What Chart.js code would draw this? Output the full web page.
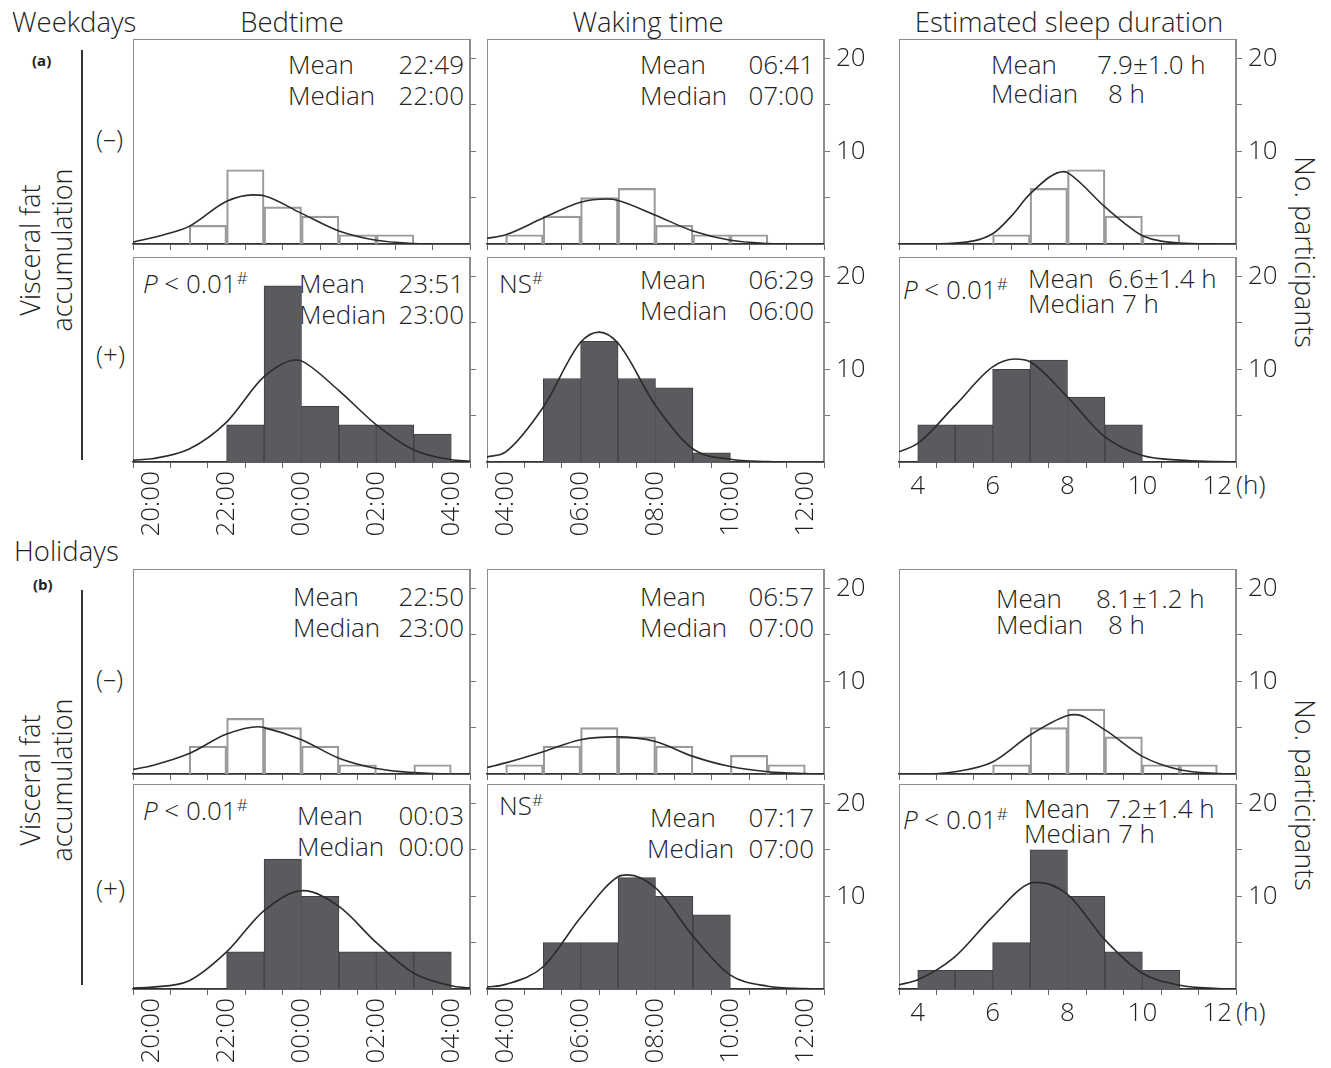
<!DOCTYPE html>
<html>
<head>
<meta charset="utf-8">
<script src="https://cdn.jsdelivr.net/npm/chart.js@4.4.0/dist/chart.umd.min.js"></script>
<style>
  body { margin: 0; background: #fff; width: 1331px; height: 1068px; position: relative; overflow: hidden;
         font-family: 'Open Sans', sans-serif; font-weight: 300; color: #222; }
  .t { position: absolute; white-space: nowrap; font-size: 26px; line-height: 30px; transform: translateY(-50%); }
  .h { font-size: 27.5px; }
  .r { transform: translate(-100%, -50%); }
  .c { transform: translate(-50%, -50%); }
  .tag { position: absolute; font-size: 15px; font-weight: 700; transform: translateY(-50%); }
  .vl { position: absolute; width: 1.5px; background: #333; }
  .rot { position: absolute; white-space: nowrap; font-size: 27px; line-height: 32px; text-align: center;
         transform: translate(-50%, -50%) rotate(-90deg); }
  .rot90 { transform: translate(-50%, -50%) rotate(90deg); }
  sup { font-size: 17px; line-height: 0; vertical-align: 9px; }
  canvas { position: absolute; }
</style>
</head>
<body>

<!-- headers -->
<div class="t h" style="left:12px;top:22px">Weekdays</div>
<div class="t c h" style="left:292px;top:22px">Bedtime</div>
<div class="t c h" style="left:648px;top:22px">Waking time</div>
<div class="t c h" style="left:1069px;top:22px">Estimated sleep duration</div>
<div class="t h" style="left:14px;top:551px">Holidays</div>

<!-- (a) side labels -->
<div class="tag" style="left:32px;top:60px">(a)</div>
<div class="vl" style="left:81px;top:50px;height:410px"></div>
<div class="rot" style="left:46px;top:250px">Visceral fat<br>accumulation</div>
<div class="t" style="left:96px;top:138px">(–)</div>
<div class="t" style="left:96px;top:354px">(+)</div>
<div class="rot rot90" style="left:1305px;top:252px">No. participants</div>

<!-- (b) side labels -->
<div class="tag" style="left:33px;top:584px">(b)</div>
<div class="vl" style="left:81px;top:590px;height:395px"></div>
<div class="rot" style="left:46px;top:780px">Visceral fat<br>accumulation</div>
<div class="t" style="left:96px;top:678px">(–)</div>
<div class="t" style="left:96px;top:888px">(+)</div>
<div class="rot rot90" style="left:1305px;top:795px">No. participants</div>

<!-- unit labels on sleep axis -->
<div class="t" style="left:1236px;top:484px">(h)</div>
<div class="t" style="left:1236px;top:1011px">(h)</div>

<!-- weekdays (-) -->
<div class="t" style="left:288px;top:64px">Mean</div><div class="t r" style="left:464px;top:64px">22:49</div>
<div class="t" style="left:288px;top:95px">Median</div><div class="t r" style="left:464px;top:95px">22:00</div>
<div class="t" style="left:640px;top:64px">Mean</div><div class="t r" style="left:814px;top:64px">06:41</div>
<div class="t" style="left:640px;top:95px">Median</div><div class="t r" style="left:814px;top:95px">07:00</div>
<div class="t" style="left:991px;top:64px">Mean</div><div class="t" style="left:1097px;top:64px">7.9±1.0 h</div>
<div class="t" style="left:991px;top:93px">Median</div><div class="t" style="left:1108px;top:93px">8 h</div>

<!-- weekdays (+) -->
<div class="t" style="left:143px;top:283px"><i>P</i> &lt; 0.01<sup>#</sup></div>
<div class="t" style="left:299px;top:283px">Mean</div><div class="t r" style="left:464px;top:283px">23:51</div>
<div class="t" style="left:299px;top:314px">Median</div><div class="t r" style="left:464px;top:314px">23:00</div>
<div class="t" style="left:499px;top:283px">NS<sup>#</sup></div>
<div class="t" style="left:640px;top:279px">Mean</div><div class="t r" style="left:814px;top:279px">06:29</div>
<div class="t" style="left:640px;top:310px">Median</div><div class="t r" style="left:814px;top:310px">06:00</div>
<div class="t" style="left:903px;top:289px"><i>P</i> &lt; 0.01<sup>#</sup></div>
<div class="t" style="left:1028px;top:278px">Mean</div><div class="t" style="left:1108px;top:278px">6.6±1.4 h</div>
<div class="t" style="left:1028px;top:303px">Median 7 h</div>

<!-- holidays (-) -->
<div class="t" style="left:293px;top:596px">Mean</div><div class="t r" style="left:464px;top:596px">22:50</div>
<div class="t" style="left:293px;top:627px">Median</div><div class="t r" style="left:464px;top:627px">23:00</div>
<div class="t" style="left:640px;top:596px">Mean</div><div class="t r" style="left:814px;top:596px">06:57</div>
<div class="t" style="left:640px;top:627px">Median</div><div class="t r" style="left:814px;top:627px">07:00</div>
<div class="t" style="left:996px;top:598px">Mean</div><div class="t" style="left:1096px;top:598px">8.1±1.2 h</div>
<div class="t" style="left:996px;top:624px">Median</div><div class="t" style="left:1108px;top:624px">8 h</div>

<!-- holidays (+) -->
<div class="t" style="left:143px;top:810px"><i>P</i> &lt; 0.01<sup>#</sup></div>
<div class="t" style="left:297px;top:815px">Mean</div><div class="t r" style="left:464px;top:815px">00:03</div>
<div class="t" style="left:297px;top:846px">Median</div><div class="t r" style="left:464px;top:846px">00:00</div>
<div class="t" style="left:499px;top:805px">NS<sup>#</sup></div>
<div class="t" style="left:650px;top:817px">Mean</div><div class="t r" style="left:814px;top:817px">07:17</div>
<div class="t" style="left:647px;top:848px">Median</div><div class="t r" style="left:814px;top:848px">07:00</div>
<div class="t" style="left:903px;top:819px"><i>P</i> &lt; 0.01<sup>#</sup></div>
<div class="t" style="left:1024px;top:808px">Mean</div><div class="t" style="left:1106px;top:808px">7.2±1.4 h</div>
<div class="t" style="left:1024px;top:833px">Median 7 h</div>

<script>
// bin start hours (24 = 00:00 next day)
const bedBins = [20, 21, 22, 23, 24, 25, 26, 27];
const wakeBins = [4, 5, 6, 7, 8, 9, 10, 11];
const sleepBins = [4, 5, 6, 7, 8, 9, 10, 11];

// axis ticks
const bedTicks = [20, 21, 22, 23, 24, 25, 26, 27, 28];
const wakeTicks = [4, 5, 6, 7, 8, 9, 10, 11, 12];
const sleepTicks = [4, 5, 6, 7, 8, 9, 10, 11, 12];
const xLabelled = [4, 6, 8, 10, 12, 20, 22, 24, 26, 28];
const yTicks = [5, 10, 15, 20];
const yLabelled = [10, 20];

// counts per bin
const wdBedNeg = [0, 2, 8, 4, 3, 1, 1, 0];
const wdBedPos = [0, 0, 4, 19, 6, 4, 4, 3];
const wdWakeNeg = [1, 3, 5, 6, 2, 1, 1, 0];
const wdWakePos = [0, 9, 13, 9, 8, 1, 0, 0];
const wdSleepNeg = [0, 0, 1, 6, 8, 3, 1, 0];
const wdSleepPos = [4, 4, 10, 11, 7, 4, 0, 0];
const hdBedNeg = [0, 3, 6, 5, 3, 1, 0, 1];
const hdBedPos = [0, 0, 4, 14, 10, 4, 4, 4];
const hdWakeNeg = [1, 3, 5, 4, 3, 0, 2, 1];
const hdWakePos = [0, 5, 5, 12, 10, 8, 0, 0];
const hdSleepNeg = [0, 0, 1, 5, 7, 4, 1, 1];
const hdSleepPos = [2, 2, 5, 15, 10, 4, 2, 0];

// fitted curves
const wdBedNegCx = [19.5, 20.33, 21, 22, 22.7, 23, 24, 25, 26, 27, 27.5];
const wdBedNegCy = [0.2, 1.0, 1.9, 4.6, 5.3, 5.2, 3.3, 1.4, 0.4, 0.05, 0];
const wdBedPosCx = [19.5, 20, 21, 22, 23, 23.85, 24, 25, 26, 27, 28, 28.5];
const wdBedPosCy = [0.2, 0.35, 1.4, 4.3, 9.2, 11.0, 10.9, 7.7, 4.0, 1.3, 0.25, 0.1];
const wdWakeNegCx = [3.5, 4, 5, 6, 6.7, 7, 8, 9, 10, 11, 11.5];
const wdWakeNegCy = [0.6, 1.0, 2.8, 4.5, 4.85, 4.7, 3.1, 1.4, 0.4, 0.05, 0];
const wdWakePosCx = [3.5, 4, 5, 6, 6.5, 7, 8, 9, 10, 11, 11.5];
const wdWakePosCy = [0.55, 1.1, 5.9, 12.9, 14.0, 12.8, 6.1, 1.4, 0.3, 0.05, 0];
const wdSleepNegCx = [3.5, 4, 5, 6, 6.5, 7, 7.9, 8, 9, 9.5, 10, 11, 12];
const wdSleepNegCy = [0, 0, 0.1, 1.1, 3.0, 5.4, 7.8, 7.7, 4.0, 2.3, 0.9, 0.1, 0];
const wdSleepPosCx = [3.5, 4, 5, 6, 6.6, 7, 8, 9, 10, 11, 12, 12.5];
const wdSleepPosCy = [1.1, 2.0, 6.1, 10.25, 11.1, 10.8, 7.0, 2.7, 0.7, 0.2, 0.05, 0];
const hdBedNegCx = [19.5, 20, 21, 22, 22.85, 23, 24, 25, 26, 27, 28, 28.5];
const hdBedNegCy = [0.5, 0.9, 2.2, 4.3, 5.1, 5.0, 3.7, 1.7, 0.6, 0.15, 0, 0];
const hdBedPosCx = [19.5, 20, 21, 22, 23, 24.05, 25, 26, 27, 28, 28.5];
const hdBedPosCy = [0.1, 0.2, 0.9, 4.0, 8.45, 10.6, 8.9, 5.0, 1.7, 0.35, 0.1];
const hdWakeNegCx = [3.5, 4, 5, 6, 6.95, 8, 9, 10, 11, 12, 12.5];
const hdWakeNegCy = [0.7, 1.2, 2.4, 3.7, 4.0, 3.5, 1.9, 0.8, 0.25, 0.05, 0];
const hdWakePosCx = [3.5, 4, 5, 6, 7, 7.25, 8, 9, 10, 11, 12, 12.5];
const hdWakePosCy = [0.2, 0.5, 2.4, 7.7, 12.1, 12.3, 10.9, 5.7, 1.5, 0.3, 0.05, 0];
const hdSleepNegCx = [3.5, 4, 5, 6, 7, 8, 8.2, 9, 10, 11, 12, 12.5];
const hdSleepNegCy = [0, 0, 0.25, 1.3, 4.2, 6.3, 6.4, 4.75, 1.9, 0.45, 0.05, 0];
const hdSleepPosCx = [3.5, 4, 5, 6, 7, 7.2, 8, 9, 10, 11, 12, 12.5];
const hdSleepPosCy = [0.45, 1.0, 3.5, 7.8, 11.4, 11.5, 10.2, 5.3, 1.7, 0.4, 0.05, 0];

// layout
const colLeft = [133, 487, 899];
const rowTop = [39, 257, 569, 784];
const PW = 337, PH = 205, PAD = 4;
const FONT = { family: "'Open Sans', sans-serif", size: 26, weight: '300' };

const frame = {
  id: 'frame',
  beforeDraw(chart) {
    const a = chart.chartArea, c = chart.ctx;
    c.save();
    c.strokeStyle = '#8c8c8c';
    c.lineWidth = 1;
    c.strokeRect(a.left + 0.5, a.top + 0.5, a.right - a.left - 1, a.bottom - a.top);
    c.restore();
  }
};

function fmtTick(v, col) {
  if (!xLabelled.includes(v)) return '';
  if (col === 2) return String(v);
  const h = v % 24;
  return (h < 10 ? '0' : '') + h + ':00';
}

function makePanel(p) {
  const lower = p.row % 2 === 1;
  const rightW = p.col === 0 ? 10 : 60;
  const bottomH = lower ? (p.col === 2 ? 40 : 90) : 10;
  const W = PAD + PW + rightW, H = PAD + PH + bottomH;
  const cv = document.createElement('canvas');
  cv.width = W; cv.height = H;
  cv.style.width = W + 'px'; cv.style.height = H + 'px';
  cv.style.left = (colLeft[p.col] - PAD) + 'px';
  cv.style.top = (rowTop[p.row] - PAD) + 'px';
  document.body.appendChild(cv);

  const isBed = p.col === 0;
  const ticks = isBed ? bedTicks : (p.col === 1 ? wakeTicks : sleepTicks);
  const rot = p.col === 2 ? 0 : 90;

  new Chart(cv, {
    type: 'bar',
    data: {
      datasets: [
        {
          type: 'line',
          data: p.cx.map((x, i) => ({ x: x, y: p.cy[i] })),
          borderColor: '#2b2b2b',
          borderWidth: 1.6,
          pointRadius: 0,
          cubicInterpolationMode: 'monotone',
          fill: false,
          order: 0,
        },
        {
          type: 'bar',
          data: p.bins.map((b, i) => ({ x: b + 0.5, y: p.counts[i] || null })),
          backgroundColor: p.filled ? '#5b5b5f' : 'rgba(255,255,255,0)',
          borderColor: p.filled ? '#404044' : '#9a9a9a',
          borderWidth: p.filled ? 1 : 1.5,
          barPercentage: 1,
          categoryPercentage: 1,
          order: 1,
        },
      ],
    },
    options: {
      responsive: false,
      animation: false,
      events: [],
      layout: { padding: { left: PAD, top: PAD, right: 0, bottom: 0 }, autoPadding: false },
      plugins: { legend: { display: false }, tooltip: { enabled: false } },
      scales: {
        x: {
          type: 'linear',
          min: isBed ? 19.5 : 3.5,
          max: isBed ? 28.5 : 12.5,
          offset: false,
          afterBuildTicks: (s) => { s.ticks = ticks.map((v) => ({ value: v })); },
          afterFit: (s) => { s.height = bottomH; s.paddingLeft = 0; s.paddingRight = 0; },
          grid: { drawOnChartArea: false, drawTicks: true, tickLength: 6, color: '#666' },
          border: { color: '#333', width: 1.5 },
          ticks: {
            autoSkip: false,
            minRotation: rot,
            maxRotation: rot,
            padding: 3,
            color: '#222',
            font: FONT,
            callback: (v) => (lower ? fmtTick(v, p.col) : ''),
          },
        },
        y: {
          position: 'right',
          min: 0,
          max: 22.1,
          afterBuildTicks: (s) => { s.ticks = yTicks.map((v) => ({ value: v })); },
          afterFit: (s) => { s.width = rightW; s.paddingTop = 0; s.paddingBottom = 0; },
          grid: { drawOnChartArea: false, drawTicks: true, tickLength: 6, color: '#777' },
          border: { color: '#8c8c8c', width: 1 },
          ticks: {
            padding: 6,
            color: '#222',
            font: FONT,
            callback: (v) => (p.col > 0 && yLabelled.includes(v) ? String(v) : ''),
          },
        },
      },
    },
    plugins: [frame],
  });
}

const panels = [
  { row: 0, col: 0, bins: bedBins, counts: wdBedNeg, cx: wdBedNegCx, cy: wdBedNegCy, filled: false },
  { row: 0, col: 1, bins: wakeBins, counts: wdWakeNeg, cx: wdWakeNegCx, cy: wdWakeNegCy, filled: false },
  { row: 0, col: 2, bins: sleepBins, counts: wdSleepNeg, cx: wdSleepNegCx, cy: wdSleepNegCy, filled: false },
  { row: 1, col: 0, bins: bedBins, counts: wdBedPos, cx: wdBedPosCx, cy: wdBedPosCy, filled: true },
  { row: 1, col: 1, bins: wakeBins, counts: wdWakePos, cx: wdWakePosCx, cy: wdWakePosCy, filled: true },
  { row: 1, col: 2, bins: sleepBins, counts: wdSleepPos, cx: wdSleepPosCx, cy: wdSleepPosCy, filled: true },
  { row: 2, col: 0, bins: bedBins, counts: hdBedNeg, cx: hdBedNegCx, cy: hdBedNegCy, filled: false },
  { row: 2, col: 1, bins: wakeBins, counts: hdWakeNeg, cx: hdWakeNegCx, cy: hdWakeNegCy, filled: false },
  { row: 2, col: 2, bins: sleepBins, counts: hdSleepNeg, cx: hdSleepNegCx, cy: hdSleepNegCy, filled: false },
  { row: 3, col: 0, bins: bedBins, counts: hdBedPos, cx: hdBedPosCx, cy: hdBedPosCy, filled: true },
  { row: 3, col: 1, bins: wakeBins, counts: hdWakePos, cx: hdWakePosCx, cy: hdWakePosCy, filled: true },
  { row: 3, col: 2, bins: sleepBins, counts: hdSleepPos, cx: hdSleepPosCx, cy: hdSleepPosCy, filled: true },
];

panels.forEach(makePanel);
</script>
</body>
</html>
